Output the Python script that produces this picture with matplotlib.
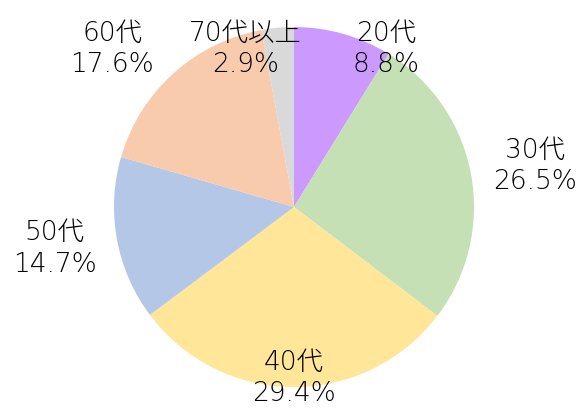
import matplotlib
matplotlib.use("Agg")
import matplotlib.pyplot as plt

plt.rcParams['font.family'] = ['DejaVu Sans', 'Noto Sans CJK JP']

labels = ["20代", "30代", "40代", "50代", "60代", "70代以上"]
shares = [8.8, 26.5, 29.4, 14.7, 17.6, 2.9]
colors = ["#CC99FF", "#C5E0B4", "#FFE699", "#B4C7E7", "#F8CBAD", "#D9D9D9"]

# label centres, in units of the pie radius
label_pos = [(0.51, 0.88), (1.34, 0.23), (0.0, -0.95), (-1.33, -0.23),
             (-1.01, 0.88), (-0.27, 0.88)]

fig = plt.figure(figsize=(5.82, 4.17), dpi=100)
ax = fig.add_axes([114 / 582, 30 / 417, 360 / 582, 360 / 417])
ax.pie(shares, colors=colors, startangle=90, counterclock=False,
       radius=1, center=(0, 0), frame=False)
ax.set_xlim(-1, 1)
ax.set_ylim(-1, 1)
ax.set_aspect('auto')
ax.axis('off')

for name, v, (x, y) in zip(labels, shares, label_pos):
    ax.text(x, y, f"{name}\n{v:.1f}%", ha='center', va='center', color='black',
            fontsize=19, fontweight='light', linespacing=1.32, clip_on=False)

fig.savefig("out.png", dpi=100)
